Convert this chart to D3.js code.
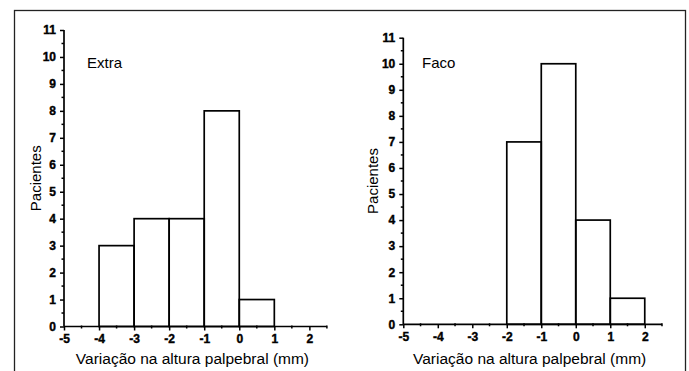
<!DOCTYPE html>
<html>
<head>
<meta charset="utf-8">
<script src="https://d3js.org/d3.v7.min.js"></script>
<style>
  body { margin: 0; background: #fff; }
  svg text { font-family: "Liberation Sans", Arial, sans-serif; fill: #000; }
</style>
</head>
<body>
<div class="chart"></div>
<script>
// histogram data
var binStarts = [-5, -4, -3, -2, -1, 0, 1];
var extraCounts = [0, 3, 4, 4, 8, 1, 0];
var facoCounts = [0, 0, 0, 7, 10, 4, 1];
var panelNames = ["Extra", "Faco"];
var xTicks = [-5, -4, -3, -2, -1, 0, 1, 2];
var yTicks = [0, 1, 2, 3, 4, 5, 6, 7, 8, 9, 10, 11];
var xLabel = "Variação na altura palpebral (mm)";
var yLabel = "Pacientes";

var svg = d3.select(".chart")
            .append("svg")
            .attr("width", 689)
            .attr("height", 371);

// outer frame (bottom edge is outside the picture)
svg.append("rect")
   .attr("x", 14.5)
   .attr("y", 10.5)
   .attr("width", 671)
   .attr("height", 400)
   .attr("fill", "none")
   .attr("stroke", "#222")
   .attr("stroke-width", 1.3);

// layout of each panel
var panels = [
  {name: panelNames[0], counts: extraCounts, x0: 64, x1: 326.9, yb: 326.5, yt: 30,
   nameX: 87, yLabX: 41},
  {name: panelNames[1], counts: facoCounts, x0: 403.3, x1: 662, yb: 324.3, yt: 37.7,
   nameX: 422, yLabX: 378}
];

panels.forEach(function(p) { drawPanel(p); });

function drawPanel(p)
{
  var g = svg.append("g");

  var x = d3.scaleLinear()
            .domain([-5, 2.5])
            .range([p.x0, p.x1]);

  var y = d3.scaleLinear()
            .domain([0, 11])
            .range([p.yb, p.yt]);

  // bars
  var bins = binStarts.map(function(b, i) { return [b, p.counts[i]]; })
                      .filter(function(d) { return d[1] > 0; });

  g.selectAll("rect.bar")
   .data(bins)
   .enter()
   .append("rect")
   .attr("class", "bar")
   .attr("x", function(d) { return x(d[0]); })
   .attr("y", function(d) { return y(d[1]); })
   .attr("width", function(d) { return x(d[0] + 1) - x(d[0]); })
   .attr("height", function(d) { return y(0) - y(d[1]); })
   .attr("fill", "none")
   .attr("stroke", "#000")
   .attr("stroke-width", 1.7);

  // y axis
  var yAxis = d3.axisLeft(y)
                .tickValues(yTicks)
                .tickSize(4)
                .tickPadding(4)
                .tickFormat(function(d) { return String(d); });

  var ya = g.append("g")
            .attr("transform", "translate(" + x(-5) + ",0)")
            .call(yAxis);

  // minor y ticks
  var yMinor = d3.range(0.5, 11, 1);
  g.selectAll("line.ymin")
   .data(yMinor)
   .enter()
   .append("line")
   .attr("x1", x(-5) - 2.5)
   .attr("x2", x(-5))
   .attr("y1", function(d) { return y(d); })
   .attr("y2", function(d) { return y(d); })
   .attr("stroke", "#000")
   .attr("stroke-width", 1.5);

  // x axis
  var xAxis = d3.axisBottom(x)
                .tickValues(xTicks)
                .tickSize(4)
                .tickPadding(4)
                .tickFormat(function(d) { return String(d); });

  var xa = g.append("g")
            .attr("transform", "translate(0," + y(0) + ")")
            .call(xAxis);

  // minor x ticks
  var xMinor = d3.range(-4.5, 3, 1);
  g.selectAll("line.xmin")
   .data(xMinor)
   .enter()
   .append("line")
   .attr("x1", function(d) { return x(d); })
   .attr("x2", function(d) { return x(d); })
   .attr("y1", y(0) - 1)
   .attr("y2", y(0) + 2)
   .attr("stroke", "#000")
   .attr("stroke-width", 1.5);

  [ya, xa].forEach(function(a) {
    a.select(".domain").remove();
    a.selectAll(".tick line").attr("stroke", "#000").attr("stroke-width", 1.5);
    a.selectAll(".tick text")
     .style("font-size", "12px")
     .style("font-weight", "bold")
     .style("font-family", "'Liberation Sans', Arial, sans-serif")
     .style("stroke", "#000")
     .style("stroke-width", "0.4px");
  });

  // axis lines
  g.append("line")
   .attr("x1", x(-5)).attr("x2", x(-5))
   .attr("y1", y(0)).attr("y2", y(11))
   .attr("stroke", "#000").attr("stroke-width", 1.7);
  g.append("line")
   .attr("x1", x(-5)).attr("x2", x(2.5))
   .attr("y1", y(0)).attr("y2", y(0))
   .attr("stroke", "#000").attr("stroke-width", 1.7);

  // titles
  g.append("text")
   .attr("x", (x(-5) + x(2.5)) / 2 - 3)
   .attr("y", 364)
   .attr("text-anchor", "middle")
   .style("font-size", "15.5px")
   .text(xLabel);

  g.append("text")
   .attr("transform", "translate(" + p.yLabX + "," + ((y(0) + y(11)) / 2) + ") rotate(-90)")
   .attr("text-anchor", "middle")
   .style("font-size", "15px")
   .text(yLabel);

  g.append("text")
   .attr("x", p.nameX)
   .attr("y", 67.5)
   .style("font-size", "15px")
   .text(p.name);
}
</script>
</body>
</html>
